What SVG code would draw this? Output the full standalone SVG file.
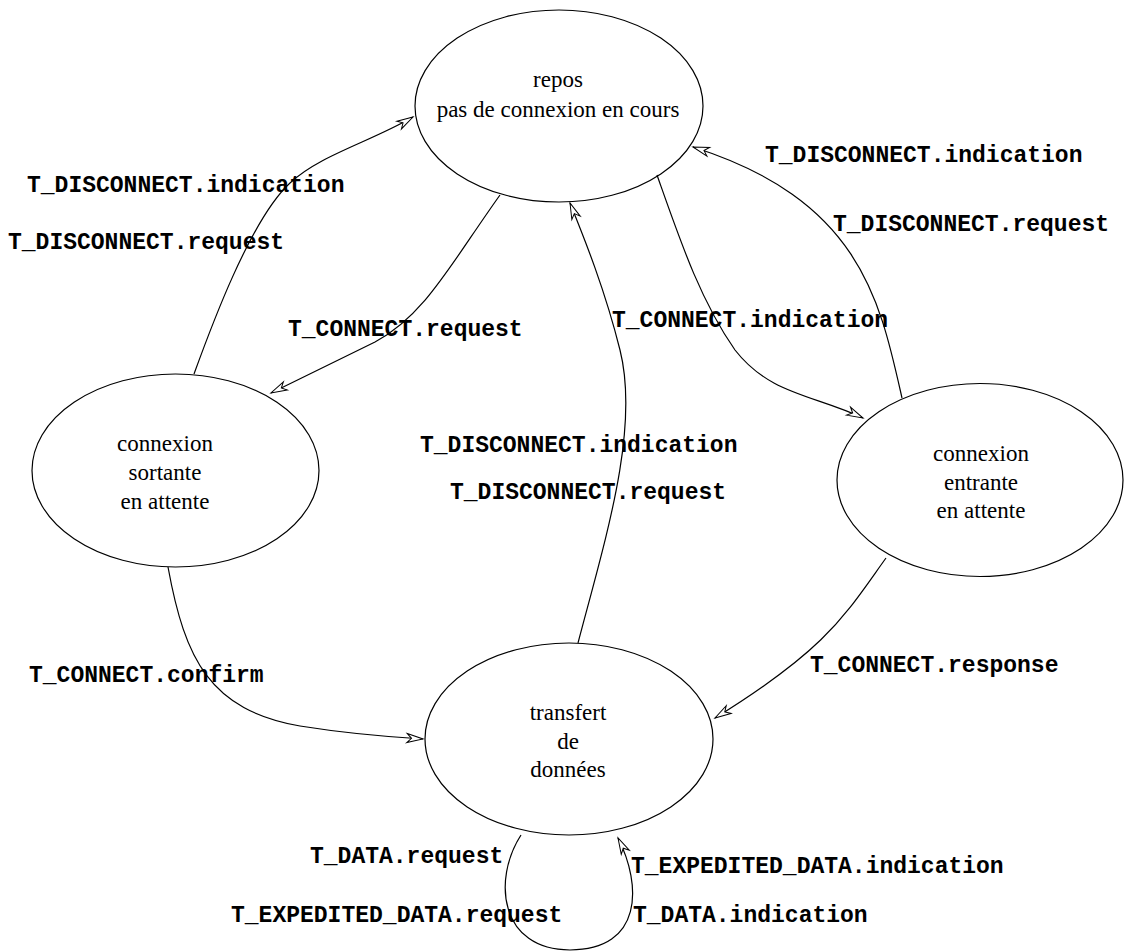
<svg xmlns="http://www.w3.org/2000/svg" width="1124" height="951" viewBox="0 0 1124 951">
<style>
.node ellipse{fill:none;stroke:#000;stroke-width:1.2}
.node text{font-family:"Liberation Serif","Times New Roman",serif;font-size:23px;fill:#000;text-anchor:middle}
.edge{fill:none;stroke:#000;stroke-width:1.2;marker-end:url(#arr)}
.lbl{font-family:"Liberation Mono","Courier New",monospace;font-weight:bold;font-size:23px;fill:#000}
</style>
<defs>
<marker id="arr" markerUnits="userSpaceOnUse" markerWidth="20" markerHeight="12" viewBox="-1 -1 20 12" refX="16" refY="5" orient="auto" overflow="visible">
<path d="M0,0.5 L16,5 L0,9.5 L4.5,5 Z" fill="#fff" stroke="#000" stroke-width="1"/>
</marker>
</defs>
<rect width="1124" height="951" fill="#fff"/>
<g id="repos" class="node">
<ellipse cx="559" cy="106" rx="144" ry="96"/>
<text x="558" y="87">repos</text>
<text x="558" y="117">pas de connexion en cours</text>
</g>
<g id="sortante" class="node">
<ellipse cx="175.5" cy="470.5" rx="143.5" ry="96.5"/>
<text x="165" y="451">connexion</text>
<text x="165" y="480">sortante</text>
<text x="165" y="509">en attente</text>
</g>
<g id="entrante" class="node">
<ellipse cx="980" cy="480" rx="143" ry="96.5"/>
<text x="981" y="461">connexion</text>
<text x="981" y="490">entrante</text>
<text x="981" y="518">en attente</text>
</g>
<g id="transfert" class="node">
<ellipse cx="569" cy="739" rx="144" ry="96"/>
<text x="568" y="720">transfert</text>
<text x="568" y="749">de</text>
<text x="568" y="777">données</text>
</g>
<g id="connectors">
<path class="edge" d="M194,374 C210,330 250,220 290,183 C320,155 370,142 413,117"/>
<path class="edge" d="M500,195 C450,265 425,315 375,342 L271,393"/>
<path class="edge" d="M657,175 C680,240 700,300 735,350 C770,395 815,395 863,418"/>
<path class="edge" d="M902,398 C880,300 860,200 693,147"/>
<path class="edge" d="M578,643 C605,540 640,430 620,350 C605,290 585,240 570,203"/>
<path class="edge" d="M168,567 C185,660 210,710 300,726 C350,734 390,737 423,739"/>
<path class="edge" d="M886,558 C845,615 828,648 715,718"/>
<path class="edge" d="M521,835 C492,880 500,950 570,950 C643,950 642,885 618,838"/>
</g>
<g id="labels">
<text class="lbl" x="27" y="192">T_DISCONNECT.indication</text>
<text class="lbl" x="8" y="249">T_DISCONNECT.request</text>
<text class="lbl" x="288" y="336">T_CONNECT.request</text>
<text class="lbl" x="612" y="327">T_CONNECT.indication</text>
<text class="lbl" x="765" y="162">T_DISCONNECT.indication</text>
<text class="lbl" x="833" y="231">T_DISCONNECT.request</text>
<text class="lbl" x="420" y="452">T_DISCONNECT.indication</text>
<text class="lbl" x="450" y="499">T_DISCONNECT.request</text>
<text class="lbl" x="29" y="682">T_CONNECT.confirm</text>
<text class="lbl" x="810" y="672">T_CONNECT.response</text>
<text class="lbl" x="310" y="863">T_DATA.request</text>
<text class="lbl" x="231" y="922">T_EXPEDITED_DATA.request</text>
<text class="lbl" x="631" y="873">T_EXPEDITED_DATA.indication</text>
<text class="lbl" x="633" y="922">T_DATA.indication</text>
</g>
</svg>
